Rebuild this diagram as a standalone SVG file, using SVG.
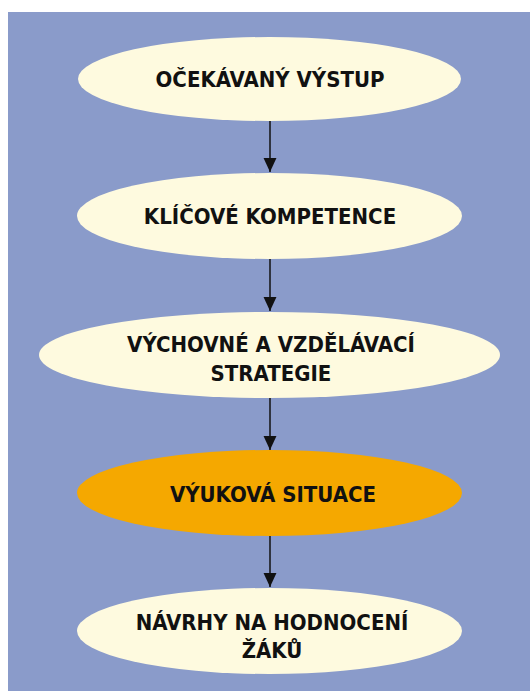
<svg xmlns="http://www.w3.org/2000/svg" width="530" height="691" viewBox="0 0 530 691">
  <style>
    .node { fill: #fefadf; }
    .hl { fill: #f5a800; }
    .lbl { font-family: "DejaVu Sans Condensed", "DejaVu Sans", "Liberation Sans", sans-serif; font-weight: bold; font-size: 22px; fill: #111; text-anchor: middle; }
    .conn { stroke: #111; stroke-width: 1.5; fill: none; }
  </style>
  <defs>
    <marker id="arrow" markerUnits="userSpaceOnUse" markerWidth="14" markerHeight="14" viewBox="0 0 13 12" refX="13" refY="6" orient="auto">
      <path d="M0,0 L13,6 L0,12 Z" fill="#111"/>
    </marker>
  </defs>
  <rect x="8" y="12" width="522" height="679" fill="#8a9bca"/>

  <g id="connectors">
    <line class="conn" x1="270" y1="120" x2="270" y2="172" marker-end="url(#arrow)"/>
    <line class="conn" x1="270" y1="259" x2="270" y2="311" marker-end="url(#arrow)"/>
    <line class="conn" x1="270" y1="398" x2="270" y2="450" marker-end="url(#arrow)"/>
    <line class="conn" x1="270" y1="536" x2="270" y2="587" marker-end="url(#arrow)"/>
  </g>

  <g id="n1">
    <ellipse class="node" cx="269.5" cy="79" rx="191.5" ry="42"/>
    <text class="lbl" x="270" y="87">OČEKÁVANÝ VÝSTUP</text>
  </g>
  <g id="n2">
    <ellipse class="node" cx="269.5" cy="216" rx="192.5" ry="43"/>
    <text class="lbl" x="270" y="224">KLÍČOVÉ KOMPETENCE</text>
  </g>
  <g id="n3">
    <ellipse class="node" cx="269.5" cy="355" rx="230.5" ry="43"/>
    <text class="lbl" x="271" y="352">VÝCHOVNÉ A VZDĚLÁVACÍ</text>
    <text class="lbl" x="271" y="381">STRATEGIE</text>
  </g>
  <g id="n4">
    <ellipse class="hl" cx="269.5" cy="493" rx="192.5" ry="43"/>
    <text class="lbl" x="273" y="502">VÝUKOVÁ SITUACE</text>
  </g>
  <g id="n5">
    <ellipse class="node" cx="269.5" cy="631" rx="192.5" ry="43"/>
    <text class="lbl" x="272" y="630">NÁVRHY NA HODNOCENÍ</text>
    <text class="lbl" x="272" y="658">ŽÁKŮ</text>
  </g>
</svg>
